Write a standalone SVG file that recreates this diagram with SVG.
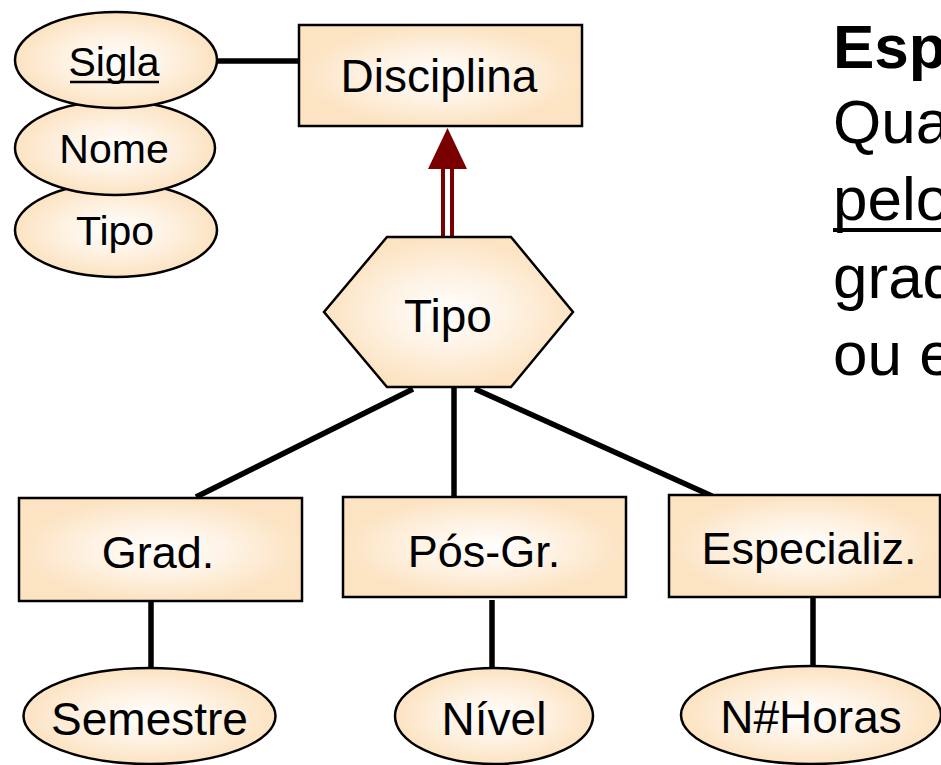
<svg xmlns="http://www.w3.org/2000/svg" width="941" height="765" viewBox="0 0 941 765">
<defs>
<radialGradient id="peach" cx="0.5" cy="0.5" r="0.5">
<stop offset="0" stop-color="#FFFFFF"/>
<stop offset="0.5" stop-color="#FEF2E3"/>
<stop offset="1" stop-color="#FCE3C2"/>
</radialGradient>
<style>
.shape{fill:url(#peach);stroke:#000;stroke-width:2.5}
.lbl{font-family:"Liberation Sans",Arial,sans-serif;fill:#000;text-anchor:middle}
.conn{stroke:#000;stroke-width:5.5;fill:none}
.isa{stroke:#7A0000;stroke-width:4;fill:none}
.side{font-family:"Liberation Sans",Arial,sans-serif;font-size:62px;fill:#000}
</style>
</defs>
<rect width="941" height="765" fill="#FFFFFF"/>

<g id="connectors">
<line class="conn" x1="216" y1="61" x2="299" y2="61"/>
<line class="conn" x1="413" y1="389" x2="196" y2="497"/>
<line class="conn" x1="454" y1="388" x2="454" y2="507"/>
<line class="conn" x1="475" y1="389" x2="712" y2="496"/>
<line class="conn" x1="151" y1="601" x2="151" y2="670"/>
<line class="conn" x1="492" y1="600" x2="492" y2="670"/>
<line class="conn" x1="813" y1="598" x2="813" y2="668"/>
<g id="isa-arrow">
<line class="isa" x1="443" y1="166" x2="443" y2="237"/>
<line class="isa" x1="452" y1="166" x2="452" y2="237"/>
<polygon points="447.5,128 467,169 428,169" fill="#7A0000"/>
</g>
</g>

<g id="attr-tipo">
<ellipse class="shape" cx="116" cy="230" rx="101" ry="47"/>
<text class="lbl" x="115" y="245" font-size="41">Tipo</text>
</g>
<g id="attr-nome">
<ellipse class="shape" cx="115" cy="148" rx="100" ry="47"/>
<text class="lbl" x="114" y="163" font-size="41">Nome</text>
</g>
<g id="attr-sigla">
<ellipse class="shape" cx="116" cy="60" rx="101" ry="48"/>
<text class="lbl" x="114" y="76" font-size="41">Sigla</text>
<line x1="70" y1="82" x2="159" y2="82" stroke="#000" stroke-width="2.5"/>
</g>

<g id="disciplina">
<rect class="shape" x="299" y="25" width="283" height="101"/>
<text class="lbl" x="439" y="92" font-size="46">Disciplina</text>
</g>

<g id="tipo-hex">
<polygon class="shape" points="387,237 511,237 573,312 511,387 387,387 324,312"/>
<text class="lbl" x="448" y="332" font-size="46">Tipo</text>
</g>

<g id="grad">
<rect class="shape" x="19" y="498" width="283" height="103"/>
<text class="lbl" x="158" y="568" font-size="45">Grad.</text>
</g>
<g id="posgr">
<rect class="shape" x="343" y="497" width="283" height="100"/>
<text class="lbl" x="484" y="567" font-size="45">Pós-Gr.</text>
</g>
<g id="especializ">
<rect class="shape" x="669" y="495" width="271" height="102"/>
<text class="lbl" x="809" y="564" font-size="45">Especializ.</text>
</g>

<g id="semestre">
<ellipse class="shape" cx="149.5" cy="716" rx="126" ry="48"/>
<text class="lbl" x="149.5" y="735" font-size="46">Semestre</text>
</g>
<g id="nivel">
<ellipse class="shape" cx="494" cy="716" rx="99" ry="48"/>
<text class="lbl" x="494" y="735" font-size="46">Nível</text>
</g>
<g id="nhoras">
<ellipse class="shape" cx="811" cy="715" rx="130" ry="49"/>
<text class="lbl" x="811" y="733" font-size="46">N#Horas</text>
</g>

<g id="side-text">
<text class="side" x="833" y="68" font-weight="bold">Esp</text>
<text class="side" x="833" y="143">Qua</text>
<text class="side" x="833" y="220">pelo</text>
<line x1="833" y1="230" x2="941" y2="230" stroke="#000" stroke-width="4"/>
<text class="side" x="833" y="298">grad</text>
<text class="side" x="833" y="375">ou e</text>
</g>
</svg>
